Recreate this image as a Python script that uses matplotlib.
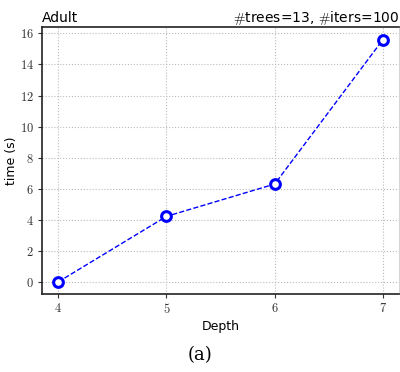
import matplotlib
matplotlib.use("Agg")
import matplotlib.pyplot as plt

depth = [4, 5, 6, 7]
time_s = [0.0, 4.22, 6.3, 15.6]
yticks = [0, 2, 4, 6, 8, 10, 12, 14, 16]

plt.rcParams['mathtext.fontset'] = 'cm'
fig = plt.figure(figsize=(4.0, 3.72), dpi=100)
ax = fig.add_axes([0.105, 0.21, 0.893, 0.717])
ax.plot(depth, time_s, linestyle='--', color='blue', linewidth=1.0,
        marker='o', markersize=7, markerfacecolor='white', markeredgecolor='blue',
        markeredgewidth=2.2)
ax.set_xlim(3.85, 7.15)
ax.set_ylim(-0.77, 16.4)
ax.set_xticks(depth)
ax.set_yticks(yticks)
ax.set_xticklabels([f'${d}$' for d in depth])
ax.set_yticklabels([f'${v}$' for v in yticks])
ax.tick_params(labelsize=9, length=3, width=0.8, colors='#333333', pad=3)
ax.grid(True, linestyle=':', color='#bbbbbb', linewidth=0.8)
for s in ['left', 'bottom', 'top']:
    ax.spines[s].set_color('#222222')
    ax.spines[s].set_linewidth(1.2)
ax.spines['right'].set_color('#cccccc')
ax.spines['right'].set_linewidth(0.6)
ax.set_xlabel('Depth', fontsize=9, family='DejaVu Sans', labelpad=3)
ax.set_ylabel('time (s)', fontsize=9, family='DejaVu Sans')
ax.yaxis.set_label_coords(-0.066, 0.5)
ax.set_title('Adult', loc='left', fontsize=10, pad=2)
ax.set_title(r'$\#$trees=13, $\#$iters=100', loc='right', fontsize=10, pad=2)
fig.text(0.5, 0.045, '(a)', ha='center', va='center', fontsize=13, family='DejaVu Serif')
fig.savefig('out.png', dpi=100)
